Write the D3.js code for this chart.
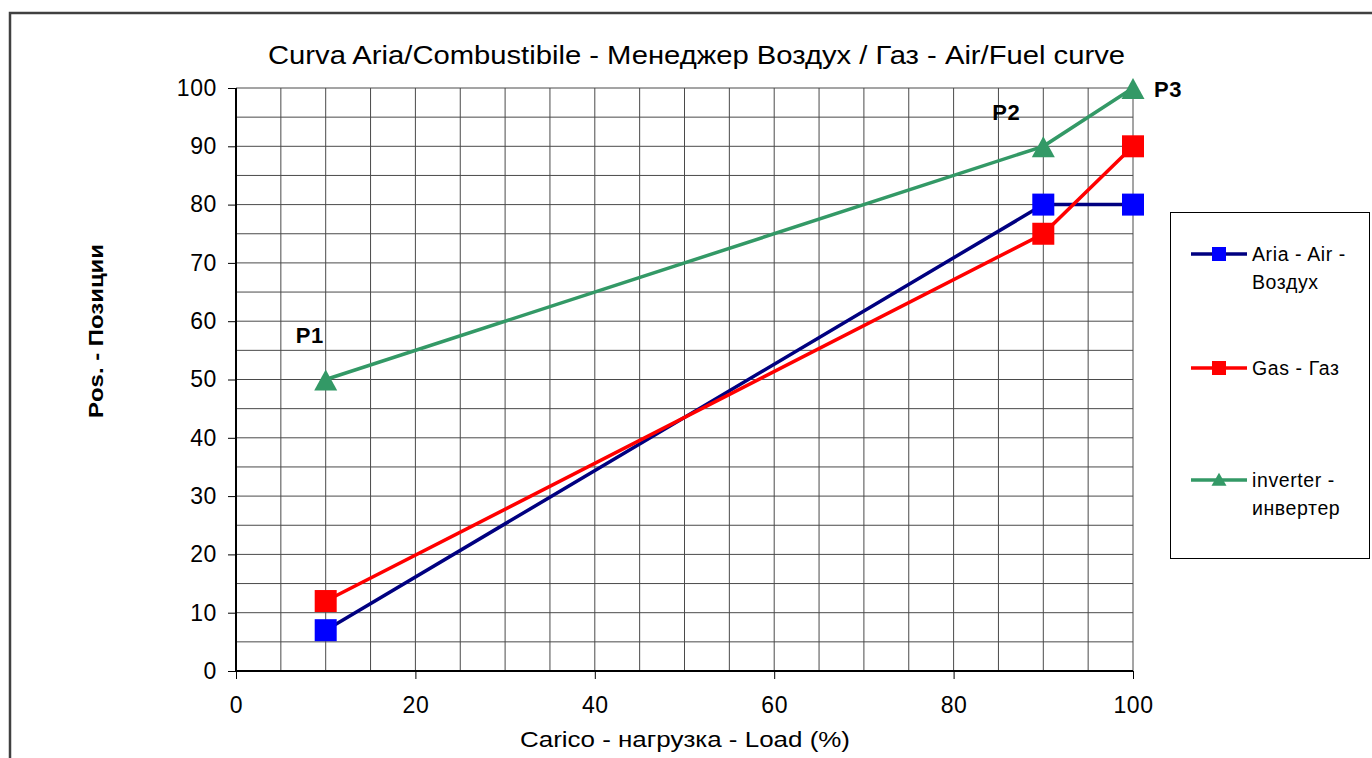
<!DOCTYPE html>
<html><head><meta charset="utf-8">
<script src="https://cdn.jsdelivr.net/npm/d3@7"></script>
<style>body{margin:0;background:#fff}svg{display:block;font-family:"Liberation Sans",Arial,sans-serif}</style>
</head><body><svg id="c" width="1372" height="758"></svg>
<script>
const loads = [10, 90, 100];
const airValues = [7, 80, 80];
const gasValues = [12, 75, 90];
const inverterValues = [50, 90, 100];
const pointLabels = ["P1", "P2", "P3"];
const xTicks = [0, 20, 40, 60, 80, 100];
const yTicks = [0, 10, 20, 30, 40, 50, 60, 70, 80, 90, 100];
const seriesNames = ["Aria - Air -|Воздух", "Gas - Газ", "inverter -|инвертер"];

const series = [
  {name: seriesNames[0], values: airValues, color: "#000080", marker: "#0000ff", shape: "square"},
  {name: seriesNames[1], values: gasValues, color: "#ff0000", marker: "#ff0000", shape: "square"},
  {name: seriesNames[2], values: inverterValues, color: "#339966", marker: "#339966", shape: "triangle"}
];

const svg = d3.select("#c");
const x = d3.scaleLinear().domain([0, 100]).range([236, 1133]);
const y = d3.scaleLinear().domain([0, 100]).range([671, 88]);

// outer frame
svg.append("rect").attr("x", 10).attr("y", 13).attr("width", 1372).attr("height", 760)
  .attr("fill", "none").attr("stroke", "#404040").attr("stroke-width", 2.5);

// grid
const g = svg.append("g");
const minor = d3.range(0, 101, 5);
g.selectAll(".vg").data(minor.filter(d => d > 0)).join("line")
  .attr("x1", d => x(d)).attr("x2", d => x(d)).attr("y1", y(0)).attr("y2", y(100))
  .attr("stroke", "#4a4a4a").attr("stroke-width", 1);
g.selectAll(".hg").data(minor.filter(d => d > 0)).join("line")
  .attr("x1", x(0)).attr("x2", x(100)).attr("y1", d => y(d)).attr("y2", d => y(d))
  .attr("stroke", "#4a4a4a").attr("stroke-width", 1);

// axes
const xAxis = d3.axisBottom(x).tickValues(xTicks).tickSize(8).tickPadding(12);
const yAxis = d3.axisLeft(y).tickValues(yTicks).tickSize(8).tickPadding(11);
const gx = svg.append("g").attr("transform", `translate(0,${y(0)})`).call(xAxis);
const gy = svg.append("g").attr("transform", `translate(${x(0)},0)`).call(yAxis);
[gx, gy].forEach(a => {
  a.attr("font-family", null).attr("font-size", null);
  a.select(".domain").attr("stroke", "#000").attr("stroke-width", 2);
  a.selectAll(".tick line").attr("stroke", "#000").attr("stroke-width", 1);
  a.selectAll(".tick text").attr("font-size", 23).attr("letter-spacing", 0.6).attr("fill", "#000");
});
gx.selectAll(".tick text").attr("dy", "0.95em");
gy.select(".domain").attr("d", `M0,${y(0)}V${y(100)}`);
gx.select(".domain").attr("d", `M${x(0)},0H${x(100)}`);

// titles
svg.append("text").attr("x", 268).attr("y", 64)
  .attr("font-size", 26).attr("textLength", 857).attr("lengthAdjust", "spacingAndGlyphs")
  .text("Curva Aria/Combustibile - Менеджер Воздух / Газ - Air/Fuel curve");
svg.append("text").attr("x", 520).attr("y", 747)
  .attr("font-size", 22).attr("textLength", 330).attr("lengthAdjust", "spacingAndGlyphs")
  .text("Carico - нагрузка - Load (%)");
svg.append("text").attr("transform", "translate(103,418) rotate(-90)")
  .attr("font-size", 21).attr("font-weight", "bold").attr("textLength", 174).attr("lengthAdjust", "spacingAndGlyphs")
  .text("Pos. - Позиции");

// lines & markers
const line = d3.line().x((d, i) => x(loads[i])).y(d => y(d));
const triPath = (cx, cy, w, h) => `M${cx},${cy - h * 0.48}L${cx + w / 2},${cy + h * 0.52}L${cx - w / 2},${cy + h * 0.52}Z`;
series.forEach(s => {
  svg.append("path").attr("d", line(s.values)).attr("fill", "none")
    .attr("stroke", s.color).attr("stroke-width", 3.5);
  s.values.forEach((v, i) => {
    if (s.shape === "square") {
      svg.append("rect").attr("x", x(loads[i]) - 11).attr("y", y(v) - 11)
        .attr("width", 22).attr("height", 22).attr("fill", s.marker);
    } else {
      svg.append("path").attr("d", triPath(x(loads[i]), y(v), 23, 21)).attr("fill", s.marker);
    }
  });
});

// point labels (offsets from the inverter points)
const labelOffsets = [[-16, -37], [-37, -26], [35, 9]];
pointLabels.forEach((p, i) => {
  svg.append("text").attr("x", x(loads[i]) + labelOffsets[i][0])
    .attr("y", y(inverterValues[i]) + labelOffsets[i][1])
    .attr("text-anchor", "middle")
    .attr("font-size", 22).attr("font-weight", "bold").attr("letter-spacing", 0.5).text(p);
});

// legend
svg.append("rect").attr("x", 1170.5).attr("y", 212.5).attr("width", 199).attr("height", 346)
  .attr("fill", "#fff").attr("stroke", "#000").attr("stroke-width", 1);
const legY = [254, 368, 480];
series.forEach((s, i) => {
  const ly = legY[i];
  svg.append("line").attr("x1", 1191).attr("x2", 1247).attr("y1", ly).attr("y2", ly)
    .attr("stroke", s.color).attr("stroke-width", 3.5);
  if (s.shape === "square") {
    svg.append("rect").attr("x", 1212).attr("y", ly - 7).attr("width", 14).attr("height", 14).attr("fill", s.marker);
  } else {
    svg.append("path").attr("d", triPath(1219, ly - 1, 15, 13)).attr("fill", s.marker);
  }
  const parts = s.name.split("|");
  const t = svg.append("text").attr("font-size", 19.5).attr("letter-spacing", 0.6).attr("fill", "#000");
  parts.forEach((p, k) => {
    t.append("tspan").attr("x", 1252).attr("y", ly + 7 + k * 28).text(p);
  });
});
</script></body></html>
